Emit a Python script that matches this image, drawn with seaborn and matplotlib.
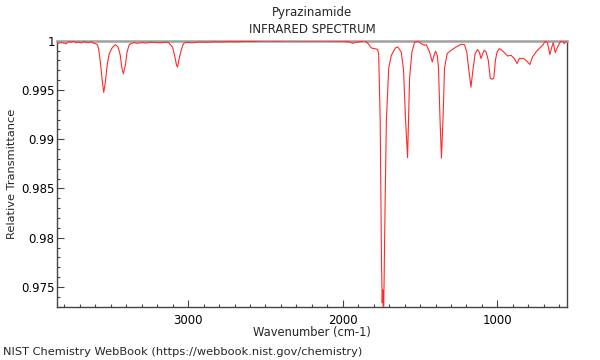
import numpy as np
import pandas as pd
import matplotlib
matplotlib.use("Agg")
import matplotlib.pyplot as plt
import seaborn as sns
from matplotlib.ticker import MultipleLocator, FuncFormatter

title = "Pyrazinamide"
subtitle = "INFRARED SPECTRUM"
xlabel = "Wavenumber (cm-1)"
ylabel = "Relative Transmittance"
footer = "NIST Chemistry WebBook (https://webbook.nist.gov/chemistry)"

wavenumber = [3845, 3815, 3790, 3772, 3755, 3740, 3725, 3708, 3690, 3675, 3660, 3643, 3625,
              3611, 3598, 3589, 3579, 3568, 3557, 3546, 3535, 3524, 3510, 3492, 3471,
              3453, 3439, 3428, 3419, 3406, 3395, 3381, 3353, 3330, 3299, 3270, 3240, 3213,
              3180, 3150, 3127, 3101, 3088, 3075, 3069, 3058, 3045, 3030, 3013, 2970,
              2923, 2880, 2830, 2780, 2729, 2680, 2630, 2580, 2536, 2480, 2420, 2360,
              2278, 2200, 2140, 2084, 2030, 1987, 1960, 1936, 1915, 1890, 1858, 1835,
              1815, 1790, 1776, 1768, 1758, 1750, 1745, 1742, 1738, 1735, 1730, 1726,
              1718, 1703, 1686, 1660, 1644, 1622, 1607, 1594, 1581, 1568, 1553, 1536,
              1518, 1493, 1471, 1460, 1439, 1421, 1411, 1400, 1389, 1381, 1371, 1362,
              1352, 1342, 1325, 1299, 1267, 1235, 1213, 1198, 1186, 1171, 1160, 1144,
              1128, 1117, 1106, 1095, 1085, 1073, 1059, 1046, 1033, 1023, 1013, 1002,
              988, 966, 934, 912, 891, 873, 859, 833, 815, 790, 773, 751, 730, 708,
              691, 676, 661, 648, 639, 626, 611, 594, 579, 568, 555]
transmittance = [0.99975, 0.99982, 0.99970, 0.99992, 0.99985, 0.99998, 0.99980, 0.99988,
                 0.99978, 0.99995, 0.99983, 0.99982, 0.99990, 0.99975, 0.99970, 0.99965,
                 0.99921, 0.99787, 0.99618, 0.99475, 0.99582, 0.99752, 0.99870, 0.99927,
                 0.99961, 0.99937, 0.99853, 0.99718, 0.99667, 0.99752, 0.99886, 0.99961,
                 0.99982, 0.99975, 0.99982, 0.99978, 0.99985, 0.99982, 0.99980, 0.99985,
                 0.99982, 0.99937, 0.99853, 0.99752, 0.99734, 0.99820, 0.99904, 0.99972,
                 0.99985, 0.99980, 0.99988, 0.99985, 0.99990, 0.99988, 0.99992, 0.99990,
                 0.99995, 0.99993, 0.99997, 0.99998, 0.99996, 0.99999, 0.99999, 1.00000,
                 0.99998, 0.99998, 0.99996, 0.99995, 0.99988, 0.99975, 0.99985, 0.99990,
                 1.00000, 0.99970, 0.99927, 0.99918, 0.99914, 0.99873, 0.99194, 0.97800,
                 0.97338, 0.97470, 0.97260, 0.97300, 0.97900, 0.98383, 0.99194, 0.99721,
                 0.99853, 0.99927, 0.99937, 0.99886, 0.99701, 0.99194, 0.98814, 0.99620,
                 0.99886, 0.99982, 1.00000, 0.99972, 0.99954, 0.99961, 0.99886, 0.99785,
                 0.99846, 0.99894, 0.99853, 0.99721, 0.99194, 0.98809, 0.99194, 0.99721,
                 0.99870, 0.99904, 0.99937, 0.99965, 0.99961, 0.99886, 0.99718, 0.99528,
                 0.99684, 0.99870, 0.99911, 0.99886, 0.99820, 0.99870, 0.99904, 0.99886,
                 0.99802, 0.99617, 0.99610, 0.99620, 0.99802, 0.99886, 0.99921, 0.99897,
                 0.99846, 0.99853, 0.99820, 0.99769, 0.99820, 0.99820, 0.99802, 0.99759,
                 0.99836, 0.99886, 0.99921, 0.99954, 0.99995, 0.99982, 0.99860, 0.99937,
                 0.99982, 0.99880, 0.99937, 0.99988, 1.00000, 0.99972, 0.99990]

df = pd.DataFrame({"wn": wavenumber, "T": transmittance})

sns.set_style("ticks")
plt.rcParams['font.family'] = ['DejaVu Sans']

fig = plt.figure(figsize=(6, 3.6), dpi=100)
ax = fig.add_axes([0.0958, 0.147, 0.8492, 0.7405])

sns.lineplot(data=df, x="wn", y="T", sort=False, color="#ff2a2a", linewidth=0.8,
             ax=ax, zorder=5)

ax.set_xlim(3845, 550)
ax.set_ylim(0.97295, 1.00003)
ax.xaxis.set_major_locator(MultipleLocator(1000))
ax.xaxis.set_minor_locator(MultipleLocator(100))
ax.yaxis.set_major_locator(MultipleLocator(0.005))
ax.yaxis.set_minor_locator(MultipleLocator(0.001))
ax.yaxis.set_major_formatter(FuncFormatter(lambda v, p: f"{v:g}"))
ax.xaxis.set_major_formatter(FuncFormatter(lambda v, p: f"{v:g}"))
ax.tick_params(axis="both", which="major", direction="in", length=5, width=0.8,
               labelsize=8.5, colors="#444444", labelcolor="black")
ax.tick_params(axis="y", which="major", pad=2)
ax.tick_params(axis="x", which="major", pad=5)
ax.tick_params(axis="both", which="minor", direction="in", length=2.5, width=0.8,
               colors="#444444")
ax.tick_params(top=False, right=False, which="both")

for s in ["left", "bottom", "right"]:
    ax.spines[s].set_visible(True)
    ax.spines[s].set_color("#444444")
    ax.spines[s].set_linewidth(1.0)
ax.spines["top"].set_visible(True)
ax.spines["top"].set_color("#a0a0a0")
ax.spines["top"].set_linewidth(1.8)

ax.set_xlabel(xlabel, fontsize=8.3, labelpad=-1)
ax.set_ylabel(ylabel, fontsize=8.2, labelpad=3)
ax.grid(False)

fig.text(0.52, 0.965, title, ha="center", va="center", fontsize=8.5)
fig.text(0.52, 0.917, subtitle, ha="center", va="center", fontsize=8.5)
fig.text(0.005, 0.022, footer, ha="left", va="center", fontsize=8.2)

fig.savefig("out.png", dpi=100)
